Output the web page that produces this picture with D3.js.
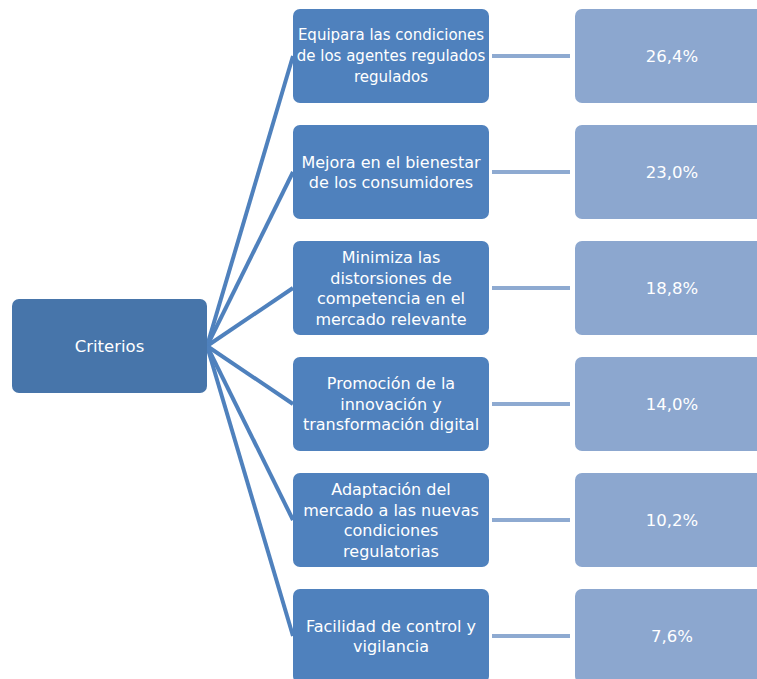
<!DOCTYPE html>
<meta charset="utf-8">
<style>
  body { margin: 0; background: #fff; }
  .lbl { fill: #fff; font-family: "DejaVu Sans", sans-serif; text-anchor: middle; }
</style>
<script src="https://d3js.org/d3.v7.min.js"></script>
<div id="chart"></div>
<script>
  // criteria (one entry per line of text) and their weights
  const rootLabel = "Criterios";
  const criteria = [
    ["Equipara las condiciones", "de los agentes regulados", "regulados"],
    ["Mejora en el bienestar", "de los consumidores"],
    ["Minimiza las", "distorsiones de", "competencia en el", "mercado relevante"],
    ["Promoción de la", "innovación y", "transformación digital"],
    ["Adaptación del", "mercado a las nuevas", "condiciones", "regulatorias"],
    ["Facilidad de control y", "vigilancia"]
  ];
  const weights = [26.4, 23.0, 18.8, 14.0, 10.2, 7.6];

  const width = 757, height = 679;
  const rootBox = {x: 12, y: 299, w: 195, h: 94};
  const midX = 293, boxW = 196, valX = 575;

  const svg = d3.select("#chart").append("svg")
      .attr("width", width)
      .attr("height", height);

  const y = d3.scaleBand()
      .domain(d3.range(criteria.length))
      .range([9, 683])
      .paddingInner(22 / 116);

  const fmt = v => d3.format(".1f")(v).replace(".", ",") + "%";
  const rootCy = rootBox.y + rootBox.h / 2;
  const cy = i => y(i) + y.bandwidth() / 2;

  // links from root
  svg.append("g").selectAll("line")
    .data(criteria)
    .join("line")
      .attr("x1", rootBox.x + rootBox.w)
      .attr("y1", rootCy)
      .attr("x2", midX)
      .attr("y2", (d, i) => cy(i))
      .attr("stroke", "#4f81bd")
      .attr("stroke-width", 4);

  // links to values
  svg.append("g").selectAll("line")
    .data(weights)
    .join("line")
      .attr("x1", midX + boxW + 3)
      .attr("x2", valX - 5)
      .attr("y1", (d, i) => cy(i))
      .attr("y2", (d, i) => cy(i))
      .attr("stroke", "#8eaad1")
      .attr("stroke-width", 4);

  // root box
  svg.append("rect")
      .attr("x", rootBox.x).attr("y", rootBox.y)
      .attr("width", rootBox.w).attr("height", rootBox.h)
      .attr("rx", 7)
      .attr("fill", "#4775aa");
  svg.append("text")
      .attr("class", "lbl")
      .attr("x", rootBox.x + rootBox.w / 2)
      .attr("y", rootCy)
      .attr("dy", "0.36em")
      .style("font-size", "16.5px")
      .text(rootLabel);

  // criteria boxes
  const mid = svg.append("g").selectAll("g")
    .data(criteria)
    .join("g");
  mid.append("rect")
      .attr("x", midX)
      .attr("y", (d, i) => y(i))
      .attr("width", boxW)
      .attr("height", y.bandwidth())
      .attr("rx", 7)
      .attr("fill", "#4f81bd");
  mid.each(function(lines, i) {
    const fs = i === 0 ? 15 : 16;
    const lh = i === 0 ? 21 : 20.5;
    d3.select(this).append("text")
        .attr("class", "lbl")
        .style("font-size", fs + "px")
      .selectAll("tspan")
      .data(lines)
      .join("tspan")
        .attr("x", midX + boxW / 2)
        .attr("y", (d, k) => cy(i) + (k - (lines.length - 1) / 2) * lh)
        .attr("dy", "0.36em")
        .text(d => d);
  });

  // value boxes
  const val = svg.append("g").selectAll("g")
    .data(weights)
    .join("g");
  val.append("rect")
      .attr("x", valX)
      .attr("y", (d, i) => y(i))
      .attr("width", 195)
      .attr("height", y.bandwidth())
      .attr("rx", 7)
      .attr("fill", "#8ca7cf");
  val.append("text")
      .attr("class", "lbl")
      .attr("x", valX + 97)
      .attr("y", (d, i) => cy(i))
      .attr("dy", "0.36em")
      .style("font-size", "16.5px")
      .text(d => fmt(d));
</script>
